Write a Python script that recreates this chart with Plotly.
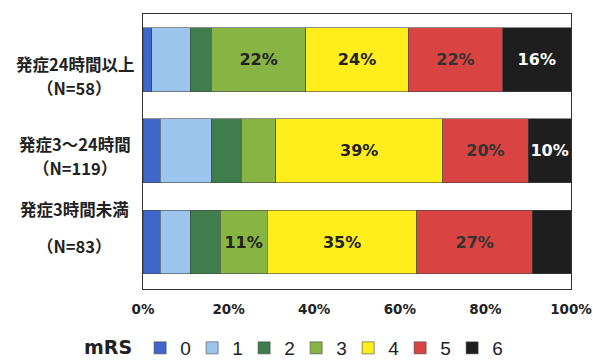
import plotly.graph_objects as go

# Onset-to-treatment groups, listed top to bottom
groups = ["発症24時間以上", "発症3〜24時間", "発症3時間未満"]
group_n = ["（N=58）", "（N=119）", "（N=83）"]

# mRS categories and share of patients (%) in each group
mrs_levels = ["0", "1", "2", "3", "4", "5", "6"]
mrs_0 = [2, 4, 4]
mrs_1 = [9, 12, 7]
mrs_2 = [5, 7, 7]
mrs_3 = [22, 8, 11]
mrs_4 = [24, 39, 35]
mrs_5 = [22, 20, 27]
mrs_6 = [16, 10, 9]

# which segments carry a percentage label
show_0 = [False, False, False]
show_1 = [False, False, False]
show_2 = [False, False, False]
show_3 = [True, False, True]
show_4 = [True, True, True]
show_5 = [True, True, True]
show_6 = [True, True, False]

x_ticks = [0, 20, 40, 60, 80, 100]

series = [mrs_0, mrs_1, mrs_2, mrs_3, mrs_4, mrs_5, mrs_6]
shows = [show_0, show_1, show_2, show_3, show_4, show_5, show_6]
colors = ["#3F67C9", "#9CC6EE", "#3F7E4C", "#88B443", "#FFEE1C", "#D94341", "#1E1E1E"]
text_colors = ["#222", "#222", "#222", "#222", "#222", "#333", "#FFFFFF"]

fig = go.Figure()
for name, vals, show, col, tcol in zip(mrs_levels, series, shows, colors, text_colors):
    fig.add_trace(go.Bar(
        y=groups,
        x=vals,
        name=name,
        orientation="h",
        marker=dict(color=col, line=dict(color="#444", width=0.6)),
        text=[f"{v}%" if s else "" for v, s in zip(vals, show)],
        textposition="inside",
        insidetextanchor="middle",
        constraintext="none",
        textangle=0,
        textfont=dict(family="DejaVu Sans", size=16, color=tcol, weight="bold"),
        hoverinfo="skip",
    ))

# group labels left of the bars: (yshift of name line, yshift of N line)
label_font = dict(family="Noto Sans CJK JP", size=16.5, color="#222", weight="bold")
label_shifts = [(-4, -28), (7, -17), (33, -4)]
for g, n, (s1, s2) in zip(groups, group_n, label_shifts):
    fig.add_annotation(x=-0.159, xref="paper", y=g, yref="y", text=g,
                       showarrow=False, xanchor="center", yanchor="middle", yshift=s1,
                       font=label_font)
    fig.add_annotation(x=-0.159, xref="paper", y=g, yref="y", text=n,
                       showarrow=False, xanchor="center", yanchor="middle", yshift=s2,
                       font=label_font)

fig.update_layout(
    barmode="stack",
    bargap=0.3,
    width=593,
    height=361,
    margin=dict(l=143, r=22, t=14, b=72),
    paper_bgcolor="white",
    plot_bgcolor="white",
    showlegend=True,
    legend=dict(
        orientation="h",
        xref="container", x=82 / 593, xanchor="left",
        yref="container", y=13 / 361, yanchor="middle",
        title=dict(text="<b>mRS</b>", font=dict(family="DejaVu Sans", size=19, color="#222")),
        font=dict(family="Liberation Sans", size=19, color="#222"),
        entrywidth=7, entrywidthmode="pixels",
        traceorder="normal",
    ),
    xaxis=dict(
        range=[0, 100],
        tickvals=x_ticks,
        ticktext=[f"{t}%" for t in x_ticks],
        tickfont=dict(family="DejaVu Sans", size=13.5, color="#222", weight="bold"),
        ticklabelstandoff=8,
        ticklabeloverflow="allow",
        automargin=False,
        showgrid=False,
        zeroline=False,
        showline=True, mirror=True, linecolor="#333", linewidth=1,
        fixedrange=True,
    ),
    yaxis=dict(
        autorange="reversed",
        automargin=False,
        showticklabels=False,
        showgrid=False,
        zeroline=False,
        showline=True, mirror=True, linecolor="#333", linewidth=1,
        fixedrange=True,
    ),
)

fig.write_html("out.html")
